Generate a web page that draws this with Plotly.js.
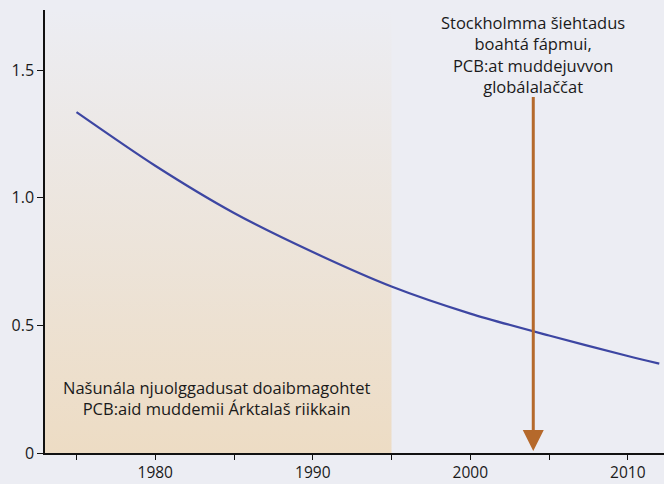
<!DOCTYPE html>
<html>
<head>
<meta charset="utf-8">
<script src="https://cdn.plot.ly/plotly-3.0.1.min.js"></script>
<style>
    html, body { margin: 0; padding: 0; background: #ecedf3; }
    #graph { width: 664px; height: 484px; }
</style>
</head>
<body>
<div id="graph"></div>
<script>
// values
const years = [1975, 1980, 1985, 1990, 1995, 2000, 2005, 2010, 2012];
const pcbLevels = [1.335, 1.125, 0.94, 0.787, 0.652, 0.546, 0.46, 0.38, 0.35];

const shadeYears = [1973, 1995];
const shadeLevels = [0, 1.735];

const conventionYear = 2004;
const arrowTop = 1.4;

const tickYears = [1975, 1980, 1985, 1990, 1995, 2000, 2005, 2010];
const tickLabels = ['', '1980', '', '1990', '', '2000', '', '2010'];

const yTickValues = [0, 0.5, 1.0, 1.5];
const yTickLabels = ['0', '0.5', '1.0', '1.5'];

const nationalText = 'Našunála njuolggadusat doaibmagohtet<br>PCB:aid muddemii Árktalaš riikkain';
const conventionText = 'Stockholmma šiehtadus<br>boahtá fápmui,<br>PCB:at muddejuvvon<br>globálalaččat';

const fontFamily = '"Open Sans", "Noto Sans", sans-serif';
const background = '#ecedf3';

const shadeTrace = {
    x: [shadeYears[0], shadeYears[1], shadeYears[1], shadeYears[0], shadeYears[0]],
    y: [shadeLevels[0], shadeLevels[0], shadeLevels[1], shadeLevels[1], shadeLevels[0]],
    mode: 'lines',
    type: 'scatter',
    fill: 'toself',
    line: {width: 0},
    fillgradient: {
        type: 'vertical',
        colorscale: [[0, '#eddcc4'], [1, 'rgba(236,237,243,1)']]
    },
    hoverinfo: 'skip'
};

const curveTrace = {
    x: years,
    y: pcbLevels,
    mode: 'lines',
    type: 'scatter',
    line: {color: '#3d46a2', width: 2.2, shape: 'spline', smoothing: 0.8}
};

const layout = {
    width: 664,
    height: 484,
    paper_bgcolor: background,
    plot_bgcolor: background,
    showlegend: false,
    margin: {l: 45, r: 0, t: 10, b: 31},
    font: {family: fontFamily, size: 16, color: '#1a1a1a'},
    xaxis: {
        range: [1973, 2012.3],
        tickvals: tickYears,
        ticktext: tickLabels,
        ticks: 'outside',
        ticklen: 5,
        tickcolor: '#111',
        tickfont: {size: 15.5, color: '#1a1a1a'},
        showgrid: false,
        zeroline: false,
        showline: true,
        linecolor: '#111',
        linewidth: 1.5,
        fixedrange: true
    },
    yaxis: {
        range: [0, 1.735],
        tickvals: yTickValues,
        ticktext: yTickLabels,
        ticks: 'outside',
        ticklen: 6,
        tickcolor: '#111',
        tickfont: {size: 16, color: '#1a1a1a'},
        showgrid: false,
        zeroline: false,
        showline: true,
        linecolor: '#111',
        linewidth: 1.5,
        fixedrange: true
    },
    annotations: [
        {
            x: conventionYear,
            y: 0,
            xref: 'x',
            yref: 'y',
            axref: 'x',
            ayref: 'y',
            ax: conventionYear,
            ay: arrowTop,
            text: '',
            showarrow: true,
            arrowhead: 2,
            arrowsize: 1.4,
            arrowwidth: 3,
            arrowcolor: '#b5692b',
            standoff: 2
        },
        {
            x: conventionYear,
            y: 1.56,
            xref: 'x',
            yref: 'y',
            text: conventionText,
            showarrow: false,
            align: 'center',
            font: {size: 16.5, color: '#1a1a1a'}
        },
        {
            x: 1983.9,
            y: 0.215,
            xref: 'x',
            yref: 'y',
            text: nationalText,
            showarrow: false,
            align: 'center',
            font: {size: 16.5, color: '#1a1a1a'}
        }
    ]
};

const config = {displayModeBar: false, responsive: false};

Plotly.newPlot('graph', [shadeTrace, curveTrace], layout, config);
</script>
</body>
</html>
